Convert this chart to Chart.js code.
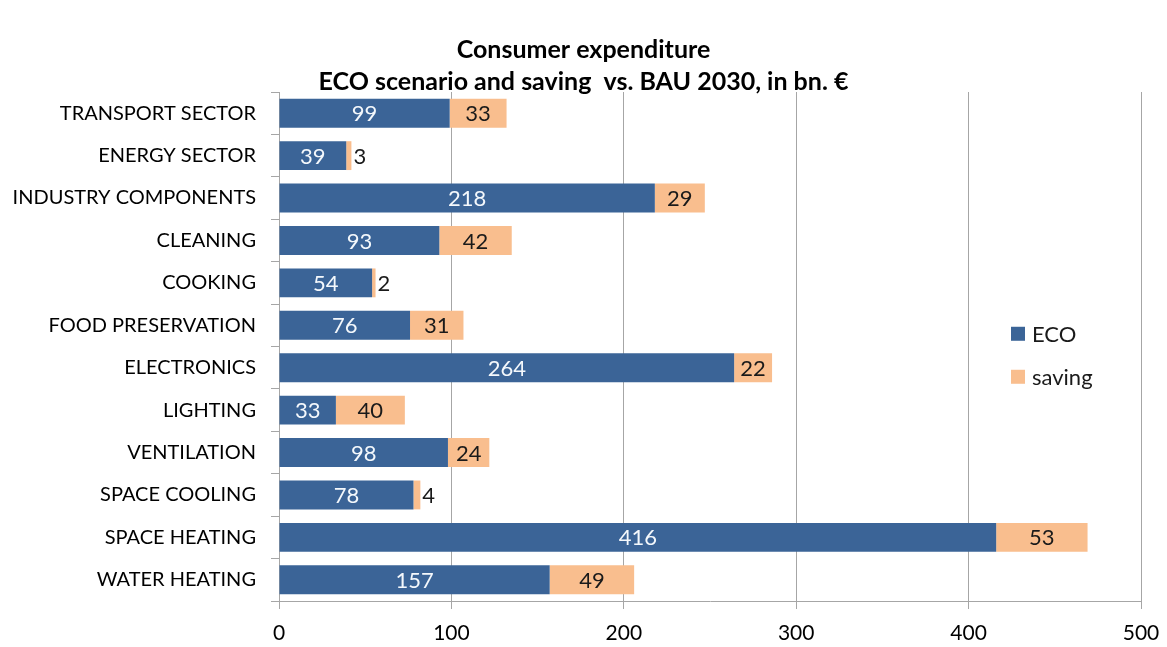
<!DOCTYPE html>
<html>
<head>
<meta charset="utf-8">
<script src="https://cdn.jsdelivr.net/npm/chart.js@4"></script>
<style>
  html, body { margin: 0; padding: 0; background: #fff; }
  #wrap { width: 1167px; height: 647px; }
</style>
</head>
<body>
<div id="wrap"><canvas id="expChart" width="1167" height="647"></canvas></div>
<script>
// categories, top to bottom
const categories = ['TRANSPORT SECTOR', 'ENERGY SECTOR', 'INDUSTRY COMPONENTS', 'CLEANING', 'COOKING',
    'FOOD PRESERVATION', 'ELECTRONICS', 'LIGHTING', 'VENTILATION', 'SPACE COOLING', 'SPACE HEATING', 'WATER HEATING'];
const ecoValues = [99, 39, 218, 93, 54, 76, 264, 33, 98, 78, 416, 157];
const savingValues = [33, 3, 29, 42, 2, 31, 22, 40, 24, 4, 53, 49];
const xTicks = [0, 100, 200, 300, 400, 500];

const ecoColor = '#3b6497';
const savingColor = '#f9be8e';
const fontFamily = 'Lato, "Open Sans", sans-serif';

// Value labels inside the bars (or just right of them when the segment is too small)
const barLabels = {
    id: 'barLabels',
    afterDatasetsDraw(chart) {
        const ctx = chart.ctx;
        ctx.save();
        ctx.font = '22px ' + fontFamily;
        ctx.textBaseline = 'middle';
        chart.data.datasets.forEach((ds, di) => {
            const meta = chart.getDatasetMeta(di);
            meta.data.forEach((bar, i) => {
                const txt = String(ds.data[i]);
                const w = Math.abs(bar.x - bar.base);
                const tw = ctx.measureText(txt).width;
                if (tw + 4 < w) {
                    ctx.textAlign = 'center';
                    ctx.fillStyle = di === 0 ? '#f4f8fc' : '#1a1a1a';
                    ctx.fillText(txt, (bar.x + bar.base) / 2, bar.y + 1);
                } else {
                    ctx.textAlign = 'left';
                    ctx.fillStyle = '#1a1a1a';
                    ctx.fillText(txt, bar.x + 2, bar.y + 1);
                }
            });
        });
        ctx.restore();
    }
};

// Legend drawn inside the plot, on the right
const sideLegend = {
    id: 'sideLegend',
    afterDraw(chart) {
        const ctx = chart.ctx;
        const area = chart.chartArea;
        const x = area.right - 130;
        const y0 = area.top + 0.475 * (area.bottom - area.top);
        ctx.save();
        ctx.font = '22px ' + fontFamily;
        ctx.textBaseline = 'middle';
        ctx.textAlign = 'left';
        chart.data.datasets.forEach((ds, i) => {
            const y = y0 + i * 43;
            ctx.fillStyle = ds.backgroundColor;
            ctx.fillRect(x, y - 7, 14, 14);
            ctx.fillStyle = '#1a1a1a';
            ctx.fillText(ds.label, x + 21, y + 1);
        });
        ctx.restore();
    }
};

const ctx = document.getElementById('expChart').getContext('2d');
const expChart = new Chart(ctx, {
    type: 'bar',
    data: {
        labels: categories,
        datasets: [
            {
                label: 'ECO',
                data: ecoValues,
                backgroundColor: ecoColor,
                barPercentage: 0.68,
                categoryPercentage: 1
            },
            {
                label: 'saving',
                data: savingValues,
                backgroundColor: savingColor,
                barPercentage: 0.68,
                categoryPercentage: 1
            }
        ]
    },
    options: {
        indexAxis: 'y',
        responsive: false,
        animation: false,
        devicePixelRatio: 1,
        layout: { padding: 0 },
        plugins: {
            legend: { display: false },
            tooltip: { enabled: false },
            title: {
                display: true,
                text: ['Consumer expenditure', 'ECO scenario and saving  vs. BAU 2030, in bn. \u20ac'],
                color: '#000',
                font: { family: fontFamily, size: 25, weight: 'bold', lineHeight: 1.28 },
                padding: { top: 34, bottom: -6 }
            }
        },
        scales: {
            x: {
                stacked: true,
                min: 0,
                max: 500,
                afterBuildTicks: axis => { axis.ticks = xTicks.map(v => ({ value: v })); },
                afterFit: axis => { axis.height = 46; axis.paddingRight = 26; },
                grid: { color: '#a6a6a6', lineWidth: 1, tickLength: 8, drawTicks: true },
                border: { color: '#a6a6a6' },
                ticks: { color: '#000', font: { family: fontFamily, size: 21 }, padding: 12 }
            },
            y: {
                stacked: true,
                afterFit: axis => { axis.width = 279; },
                grid: { drawOnChartArea: false, color: '#a6a6a6', tickLength: 8 },
                border: { color: '#a6a6a6' },
                ticks: { color: '#000', font: { family: fontFamily, size: 20 }, padding: 15 }
            }
        }
    },
    plugins: [barLabels, sideLegend]
});
</script>
</body>
</html>
